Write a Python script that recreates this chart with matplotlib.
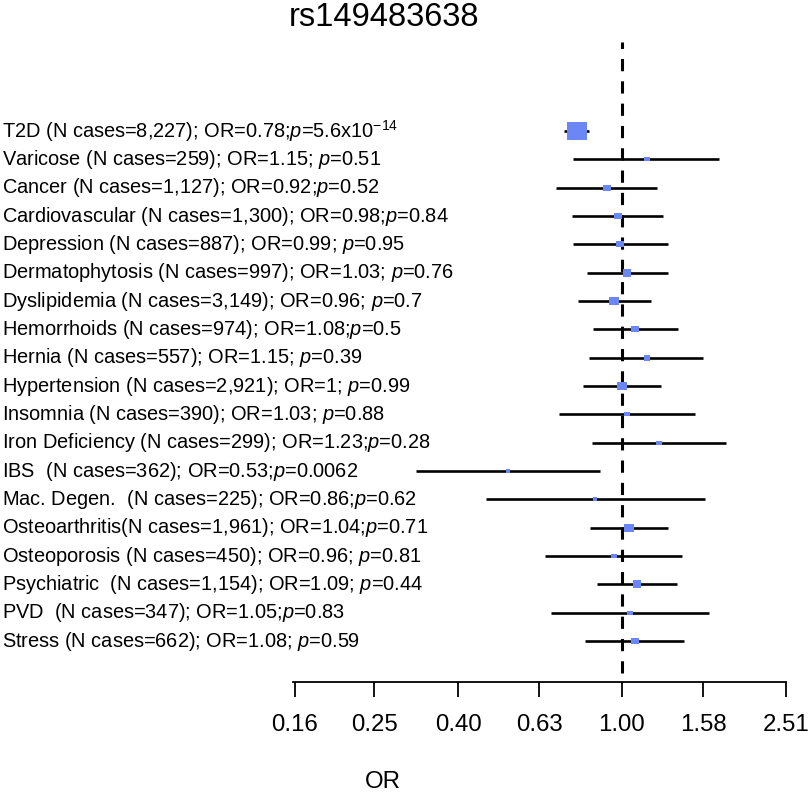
import numpy as np
import matplotlib.pyplot as plt
from matplotlib.transforms import blended_transform_factory

# ============================================================
# DATA
# ============================================================

labels = [
    "T2D (N cases=8,227); OR=0.78;$p$=5.6x10$^{-14}$",
    "Varicose (N cases=259); OR=1.15; $p$=0.51",
    "Cancer (N cases=1,127); OR=0.92;$p$=0.52",
    "Cardiovascular (N cases=1,300); OR=0.98;$p$=0.84",
    "Depression (N cases=887); OR=0.99; $p$=0.95",
    "Dermatophytosis (N cases=997); OR=1.03; $p$=0.76",
    "Dyslipidemia (N cases=3,149); OR=0.96; $p$=0.7",
    "Hemorrhoids (N cases=974); OR=1.08;$p$=0.5",
    "Hernia (N cases=557); OR=1.15; $p$=0.39",
    "Hypertension (N cases=2,921); OR=1; $p$=0.99",
    "Insomnia (N cases=390); OR=1.03; $p$=0.88",
    "Iron Deficiency (N cases=299); OR=1.23;$p$=0.28",
    "IBS  (N cases=362); OR=0.53;$p$=0.0062",
    "Mac. Degen.  (N cases=225); OR=0.86;$p$=0.62",
    "Osteoarthritis(N cases=1,961); OR=1.04;$p$=0.71",
    "Osteoporosis (N cases=450); OR=0.96; $p$=0.81",
    "Psychiatric  (N cases=1,154); OR=1.09; $p$=0.44",
    "PVD  (N cases=347); OR=1.05;$p$=0.83",
    "Stress (N cases=662); OR=1.08; $p$=0.59",
]

odds = [0.78, 1.15, 0.92, 0.98, 0.99, 1.03, 0.96, 1.08, 1.15, 1.00,
        1.03, 1.23, 0.53, 0.86, 1.04, 0.96, 1.09, 1.05, 1.08]

ci_lo = [0.726, 0.763, 0.692, 0.757, 0.763, 0.825, 0.784, 0.853, 0.834, 0.805,
         0.705, 0.847, 0.315, 0.468, 0.838, 0.652, 0.869, 0.675, 0.816]

ci_hi = [0.831, 1.73, 1.216, 1.263, 1.30, 1.30, 1.178, 1.374, 1.58, 1.246,
         1.505, 1.80, 0.885, 1.60, 1.296, 1.405, 1.366, 1.628, 1.418]

tick_vals = [0.16, 0.25, 0.40, 0.63, 1.00, 1.58, 2.51]

# ============================================================
# STYLE
# ============================================================

plt.rcParams['font.family'] = 'Liberation Sans'
plt.rcParams['mathtext.fontset'] = 'custom'
plt.rcParams['mathtext.rm'] = 'Liberation Sans'
plt.rcParams['mathtext.it'] = 'Liberation Sans:italic'

box_color = '#6b86f5'

# slightly wide box, like the reference
box_marker = [(-1, -0.81), (1, -0.81), (1, 0.81), (-1, 0.81)]

# ============================================================
# PLOT
# ============================================================

fig = plt.figure(figsize=(8.12, 7.95), dpi=100)

ax = fig.add_axes([0.3608, 0.1421, 0.6071, 0.8050])

n = len(labels)
y = np.arange(n, 0, -1)

ax.set_xscale('log')
ax.set_xlim(10**-0.8, 10**0.4)
ax.set_ylim(-0.447, 22.14)

# reference line at OR = 1
ax.plot(
    [1, 1],
    [-0.13, 22.14],
    color='k',
    linestyle=(0, (4, 3.3)),
    linewidth=2.2,
    zorder=1
)

# confidence intervals
ax.hlines(
    y,
    ci_lo,
    ci_hi,
    color='k',
    linewidth=1.9,
    zorder=2
)

# box size from precision (narrow CI -> big box)
width = np.log10(ci_hi) - np.log10(ci_lo)
box_px = 21 * (width.min() / width) ** 0.72

for yi, o, s in zip(y, odds, box_px):
    ax.plot(
        o,
        yi,
        marker=box_marker,
        markersize=s / 1.389,
        color=box_color,
        markeredgewidth=0,
        zorder=3
    )

# axis styling
for side in ['top', 'right', 'left']:
    ax.spines[side].set_visible(False)
ax.spines['bottom'].set_linewidth(1.3)

ax.set_yticks([])
ax.set_xticks(tick_vals)
ax.set_xticks([], minor=True)
ax.set_xticklabels([f"{v:.2f}" for v in tick_vals], fontsize=17.3)
ax.tick_params(axis='x', direction='out', length=11, width=1.3, pad=12)

# row labels
trans = blended_transform_factory(fig.transFigure, ax.transData)
for yi, lab in zip(y, labels):
    ax.text(
        0.002,
        yi,
        lab,
        transform=trans,
        ha='left',
        va='center',
        fontsize=14.4
    )

fig.text(384 / 812, 1 - 18 / 795, "rs149483638", ha='center', va='center', fontsize=23.5)
fig.text(383 / 812, 1 - 782 / 795, "OR", ha='center', va='center', fontsize=17.3)

fig.savefig("out.png", dpi=100)
